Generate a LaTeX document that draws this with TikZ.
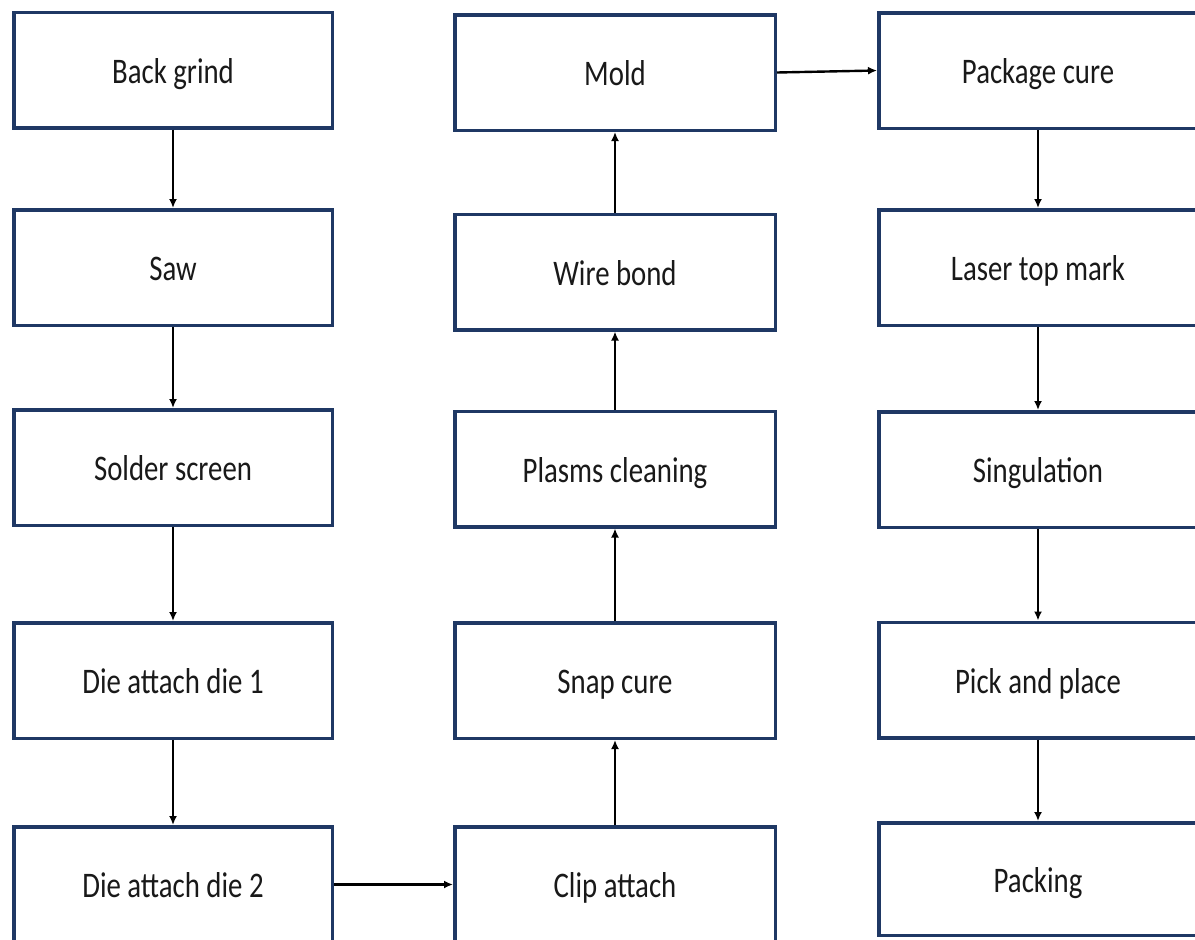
\documentclass[tikz,border=0pt]{standalone}
\usepackage{fontspec}
\setmainfont{Carlito}[FakeStretch=0.8]
\usetikzlibrary{arrows.meta}
\definecolor{boxblue}{RGB}{31,56,100}
\definecolor{txt}{RGB}{25,25,25}
\tikzset{
  stepbox/.style={draw=boxblue, line width=3.5pt, fill=white, rectangle,
    minimum width=318.5pt, minimum height=115.5pt, inner sep=0pt,
    text height=26pt, text depth=0pt,
    text=txt, font=\fontsize{36}{42}\selectfont},
  flow/.style={draw=black, line width=2.4pt, -{Latex[length=9pt,width=8pt]}}
}
\begin{document}
\begin{tikzpicture}[x=1pt,y=-1pt]
\useasboundingbox (0,0) rectangle (1195,940);
% column 1
\node[stepbox] (bg)   at (173,70)    {Back grind};
\node[stepbox] (saw)  at (173,267.5) {Saw};
\node[stepbox] (ss)   at (173,467.5) {Solder screen};
\node[stepbox] (da1)  at (173,680.5) {Die attach die 1};
\node[stepbox] (da2)  at (173,884.5) {Die attach die 2};
% column 2
\node[stepbox, minimum width=320.5pt] (mold) at (615,72.5)  {Mold};
\node[stepbox, minimum width=320.5pt] (wb)   at (615,272)   {Wire bond};
\node[stepbox, minimum width=320.5pt] (pc)   at (615,469)   {Plasms cleaning};
\node[stepbox, minimum width=320.5pt] (sc)   at (615,680.5) {Snap cure};
\node[stepbox, minimum width=320.5pt] (ca)   at (615,884.5) {Clip attach};
% column 3
\node[stepbox] (pkc)  at (1038,70.5)  {Package cure};
\node[stepbox] (ltm)  at (1038,267.5) {Laser top mark};
\node[stepbox] (sing) at (1038,469.5) {Singulation};
\node[stepbox] (pp)   at (1038,680)   {Pick and place};
\node[stepbox, minimum height=112.5pt] (pack) at (1038,879) {Packing};
% connectors
\draw[flow] (bg) -- (saw);
\draw[flow] (saw) -- (ss);
\draw[flow] (ss) -- (da1);
\draw[flow] (da1) -- (da2);
\draw[flow] (da2) -- (ca);
\draw[flow] (ca) -- (sc);
\draw[flow] (sc) -- (pc);
\draw[flow] (pc) -- (wb);
\draw[flow] (wb) -- (mold);
\draw[flow] (mold.east) -- (pkc.west);
\draw[flow] (pkc) -- (ltm);
\draw[flow] (ltm) -- (sing);
\draw[flow] (sing) -- (pp);
\draw[flow] (pp) -- (pack);
\end{tikzpicture}
\end{document}
